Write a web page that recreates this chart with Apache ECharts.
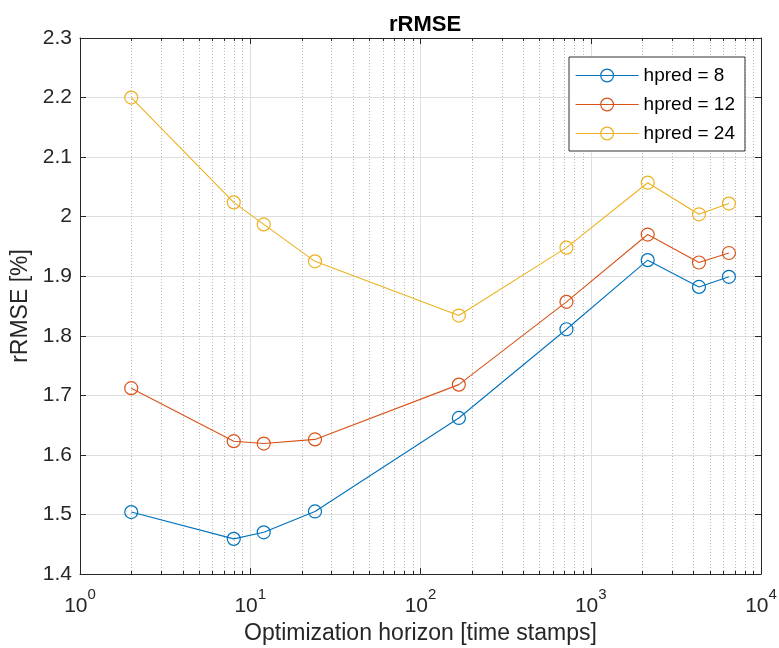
<!DOCTYPE html>
<html><head><meta charset="utf-8">
<script src="https://cdn.jsdelivr.net/npm/echarts@6/dist/echarts.min.js"></script>
<style>html,body{margin:0;padding:0;background:#fff}#c{width:779px;height:648px}</style>
</head><body><div id="c"></div>
<script>
// ---- data ----
const xValues = [2, 8, 12, 24, 168, 720, 2160, 4320, 6480];
const hpred8  = [1.504, 1.459, 1.470, 1.505, 1.662, 1.811, 1.927, 1.882, 1.899];
const hpred12 = [1.712, 1.623, 1.619, 1.626, 1.718, 1.857, 1.970, 1.923, 1.939];
const hpred24 = [2.200, 2.024, 1.987, 1.925, 1.834, 1.948, 2.057, 2.004, 2.022];
const seriesNames = ['hpred = 8', 'hpred = 12', 'hpred = 24'];
const minorXTicks = [2,3,4,5,6,7,8,9,20,30,40,50,60,70,80,90,200,300,400,500,600,700,800,900,2000,3000,4000,5000,6000,7000,8000,9000];
const yMin = 1.4, yMax = 2.3, yStep = 0.1;
const xMin = 1, xMax = 10000;

const colors = ['#0072BD', '#D95319', '#EDB120'];
const axisColor = '#262626';
const font = 'Liberation Sans, Arial, Helvetica, sans-serif';

const chart = echarts.init(document.getElementById('c'), null, {renderer: 'canvas'});

function lineSeries(name, vals, color) {
  return {
    name, type: 'line', xAxisIndex: 0, yAxisIndex: 0,
    data: xValues.map((x, i) => [x, vals[i]]),
    symbol: 'circle', symbolSize: 13, showSymbol: true,
    lineStyle: {color, width: 1.1},
    itemStyle: {color: 'rgba(255,255,255,0)', borderColor: color, borderWidth: 1.2},
    emphasis: {disabled: true},
    z: 5
  };
}

const option = {
  animation: false,
  backgroundColor: '#fff',
  title: {
    text: 'rRMSE', left: 420, top: 9, textAlign: 'center',
    textStyle: {fontFamily: font, fontSize: 22, fontWeight: 'bold', color: '#000'}
  },
  grid: {left: 80, right: 18, top: 38, bottom: 74, containLabel: false, outerBoundsMode: 'none'},
  legend: {
    data: seriesNames,
    orient: 'vertical', left: 569, top: 57,
    backgroundColor: '#fff', borderColor: '#333', borderWidth: 1,
    padding: [9, 10, 8, 6],
    itemWidth: 63, itemHeight: 16, itemGap: 10,
    lineStyle: {width: 1.2},
    itemStyle: {borderWidth: 1.2},
    textStyle: {fontFamily: font, fontSize: 19, color: '#000', lineHeight: 16},
    selectedMode: false
  },
  xAxis: [{
    type: 'log', logBase: 10, min: xMin, max: xMax,
    name: 'Optimization horizon [time stamps]', nameLocation: 'middle', nameGap: 48,
    nameTextStyle: {fontFamily: font, fontSize: 23, color: axisColor},
    axisLine: {show: true, lineStyle: {color: axisColor, width: 1}},
    axisTick: {show: true, inside: true, length: 6, lineStyle: {color: axisColor}},
    axisLabel: {
      margin: 13, color: axisColor,
      formatter: v => '{b|10}{s|' + Math.round(Math.log10(v)) + '}',
      rich: {
        b: {fontFamily: font, fontSize: 21, color: axisColor, lineHeight: 30, verticalAlign: 'bottom'},
        s: {fontFamily: font, fontSize: 15, color: axisColor, lineHeight: 15, verticalAlign: 'top'}
      }
    },
    splitLine: {show: true, lineStyle: {color: '#dedede', width: 1}}
  }, {
    type: 'log', logBase: 10, min: xMin, max: xMax, position: 'top',
    axisLine: {show: true, lineStyle: {color: axisColor, width: 1}},
    axisTick: {show: true, inside: true, length: 6, lineStyle: {color: axisColor}},
    axisLabel: {show: false}, splitLine: {show: false}
  }],
  yAxis: [{
    type: 'value', min: yMin, max: yMax, interval: yStep,
    name: 'rRMSE [%]', nameLocation: 'middle', nameGap: 40, nameRotate: 90,
    nameTextStyle: {fontFamily: font, fontSize: 23, color: axisColor},
    axisLine: {show: true, lineStyle: {color: axisColor, width: 1}},
    axisTick: {show: true, inside: true, length: 6, lineStyle: {color: axisColor}},
    axisLabel: {
      margin: 8, fontFamily: font, fontSize: 21, color: axisColor,
      formatter: v => String(+v.toFixed(1))
    },
    splitLine: {show: true, lineStyle: {color: '#dedede', width: 1}}
  }, {
    type: 'value', min: yMin, max: yMax, interval: yStep, position: 'right',
    axisLine: {show: true, lineStyle: {color: axisColor, width: 1}},
    axisTick: {show: true, inside: true, length: 6, lineStyle: {color: axisColor}},
    axisLabel: {show: false}, splitLine: {show: false}
  }],
  series: [
    {
      type: 'custom', xAxisIndex: 0, yAxisIndex: 0, silent: true, z: 1,
      data: minorXTicks.map(v => [v, yMin]),
      encode: {x: 0, y: 1},
      renderItem(params, api) {
        const v = api.value(0);
        const b = api.coord([v, yMin]);
        const t = api.coord([v, yMax]);
        const x = Math.round(b[0]) + 0.5;
        return {type: 'group', children: [
          {type: 'line', shape: {x1: x, y1: b[1], x2: x, y2: t[1]},
           style: {stroke: '#bcbcbc', lineWidth: 1, lineDash: [1, 2]}},
          {type: 'line', shape: {x1: x, y1: b[1], x2: x, y2: b[1] - 3},
           style: {stroke: axisColor, lineWidth: 1}},
          {type: 'line', shape: {x1: x, y1: t[1], x2: x, y2: t[1] + 3},
           style: {stroke: axisColor, lineWidth: 1}}
        ]};
      }
    },
    lineSeries(seriesNames[0], hpred8, colors[0]),
    lineSeries(seriesNames[1], hpred12, colors[1]),
    lineSeries(seriesNames[2], hpred24, colors[2])
  ]
};
chart.setOption(option);
</script>
</body></html>
